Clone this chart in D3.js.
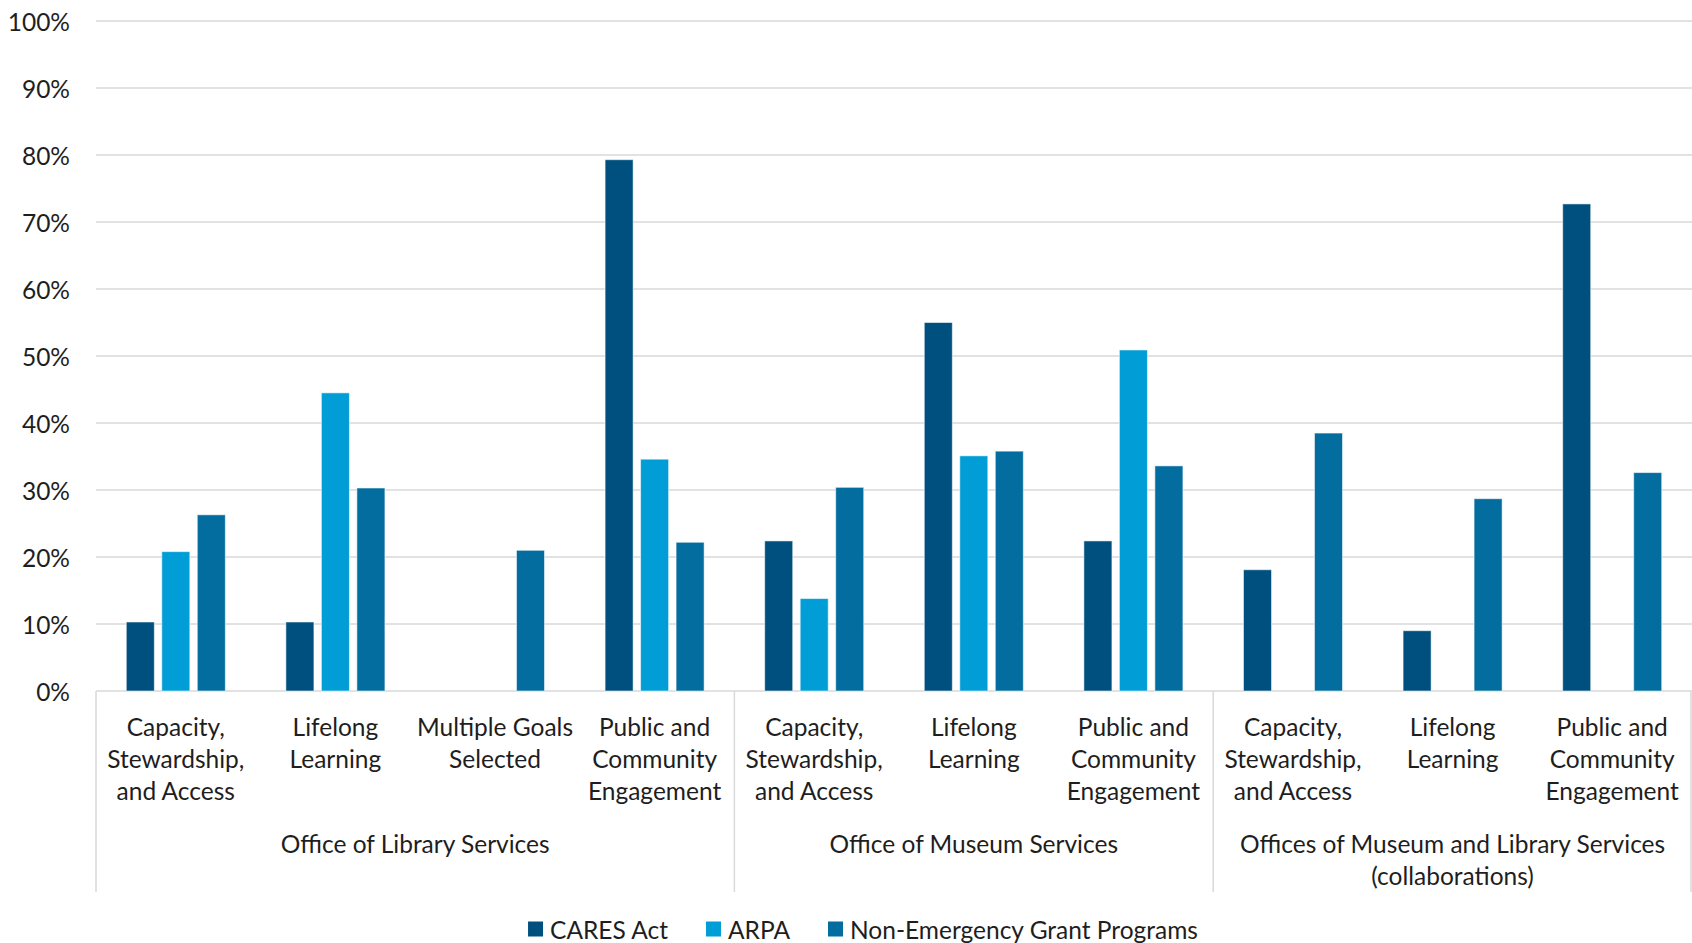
<!DOCTYPE html>
<html>
<head>
<meta charset="utf-8">
<script src="https://cdn.jsdelivr.net/npm/d3@7"></script>
<style>
  html, body { margin: 0; padding: 0; background: #fff; }
  svg { display: block; font-family: Lato, "Open Sans", sans-serif; }
</style>
</head>
<body>
<svg id="chart" width="1692" height="943"></svg>
<script>
// ---- data ----
const groups = [
  "Office of Library Services",
  "Office of Museum Services",
  "Offices of Museum and Library Services\n(collaborations)"
];
const categories = [
  "Capacity,\nStewardship,\nand Access",
  "Lifelong\nLearning",
  "Multiple Goals\nSelected",
  "Public and\nCommunity\nEngagement",
  "Capacity,\nStewardship,\nand Access",
  "Lifelong\nLearning",
  "Public and\nCommunity\nEngagement",
  "Capacity,\nStewardship,\nand Access",
  "Lifelong\nLearning",
  "Public and\nCommunity\nEngagement"
];
const categoryGroup = [0, 0, 0, 0, 1, 1, 1, 2, 2, 2];
const seriesNames = ["CARES Act", "ARPA", "Non-Emergency Grant Programs"];
const caresAct     = [10.3, 10.3, null, 79.3, 22.4, 55.0, 22.4, 18.1, 9.0, 72.7];
const arpa         = [20.8, 44.5, null, 34.6, 13.8, 35.1, 50.9, null, null, null];
const nonEmergency = [26.3, 30.3, 21.0, 22.2, 30.4, 35.8, 33.6, 38.5, 28.7, 32.6];
const yTicks = [0, 10, 20, 30, 40, 50, 60, 70, 80, 90, 100];
const colors = ["#00507f", "#009dd6", "#036da0"];

(function () {
// ---- layout ----
const svg = d3.select("#chart");
const plotL = 96, plotR = 1692, plotT = 21, plotB = 691;
const fontSize = 24.5;
const textColor = "#1e1e1e";
const gridColor = "#d9d9d9";

const idx = categories.map((d, i) => i);
const x0 = d3.scaleBand().domain(idx).range([plotL, plotR]).padding(0);
const x1 = d3.scaleBand().domain([0, 1, 2]).range([0, x0.bandwidth()])
  .paddingInner(0.21).paddingOuter(0.853);
const y = d3.scaleLinear().domain([0, 100]).range([plotB, plotT]);

// gridlines
svg.append("g").selectAll("line").data(yTicks).join("line")
  .attr("x1", plotL).attr("x2", plotR)
  .attr("y1", d => y(d)).attr("y2", d => y(d))
  .attr("stroke", gridColor).attr("stroke-width", 1.5);

// y tick labels
svg.append("g").selectAll("text").data(yTicks).join("text")
  .attr("x", 70).attr("y", d => y(d))
  .attr("text-anchor", "end").attr("dominant-baseline", "central")
  .attr("font-size", fontSize).attr("fill", textColor)
  .text(d => d + "%");

// bars
const allSeries = [caresAct, arpa, nonEmergency];
const barData = [];
allSeries.forEach((vals, s) => vals.forEach((v, i) => {
  if (v !== null) barData.push({ s, i, v });
}));
svg.append("g").selectAll("rect").data(barData).join("rect")
  .attr("x", d => x0(d.i) + x1(d.s))
  .attr("width", x1.bandwidth())
  .attr("y", d => y(d.v))
  .attr("height", d => y(0) - y(d.v))
  .attr("fill", d => colors[d.s])
  .attr("stroke", "rgba(255,255,255,0.55)").attr("stroke-width", 1);

// separators (group boundaries)
const sepY2 = 892;
const boundaries = [0];
categoryGroup.forEach((g, i) => { if (i > 0 && g !== categoryGroup[i - 1]) boundaries.push(i); });
const sepXs = boundaries.map(i => x0(i)).concat([plotR - 1]);
svg.append("g").selectAll("line").data(sepXs).join("line")
  .attr("x1", d => d).attr("x2", d => d)
  .attr("y1", plotB).attr("y2", sepY2)
  .attr("stroke", gridColor).attr("stroke-width", 1.5);

// category labels
const lineH = 32.4;
const catG = svg.append("g");
categories.forEach((c, i) => {
  const t = catG.append("text")
    .attr("text-anchor", "middle").attr("font-size", fontSize).attr("fill", textColor);
  c.split("\n").forEach((ln, k) => {
    t.append("tspan").attr("x", x0(i) + x0.bandwidth() / 2)
      .attr("y", 726 + k * lineH).attr("dominant-baseline", "central").text(ln);
  });
});

// group labels
groups.forEach((g, gi) => {
  const members = idx.filter(i => categoryGroup[i] === gi);
  const cx = (x0(members[0]) + x0(members[members.length - 1]) + x0.bandwidth()) / 2;
  const t = svg.append("text").attr("text-anchor", "middle")
    .attr("font-size", fontSize).attr("fill", textColor);
  g.split("\n").forEach((ln, k) => {
    t.append("tspan").attr("x", cx).attr("y", 843 + k * lineH)
      .attr("dominant-baseline", "central").text(ln);
  });
});

// legend
const legend = svg.append("g");
const legendY = 929, sq = 15, sqGap = 7, itemGap = 38;
const items = seriesNames.map((name, s) => {
  const g = legend.append("g");
  g.append("rect").attr("x", 0).attr("y", legendY - sq / 2).attr("width", sq).attr("height", sq)
    .attr("fill", colors[s]);
  const t = g.append("text").attr("x", sq + sqGap).attr("y", legendY)
    .attr("dominant-baseline", "central").attr("font-size", fontSize).attr("fill", textColor)
    .text(name);
  return { g, w: sq + sqGap + t.node().getComputedTextLength() };
});
const totalW = d3.sum(items, d => d.w) + itemGap * (items.length - 1);
let lx = 863 - totalW / 2;
items.forEach(it => { it.g.attr("transform", `translate(${lx},0)`); lx += it.w + itemGap; });
})();
</script>
</body>
</html>
